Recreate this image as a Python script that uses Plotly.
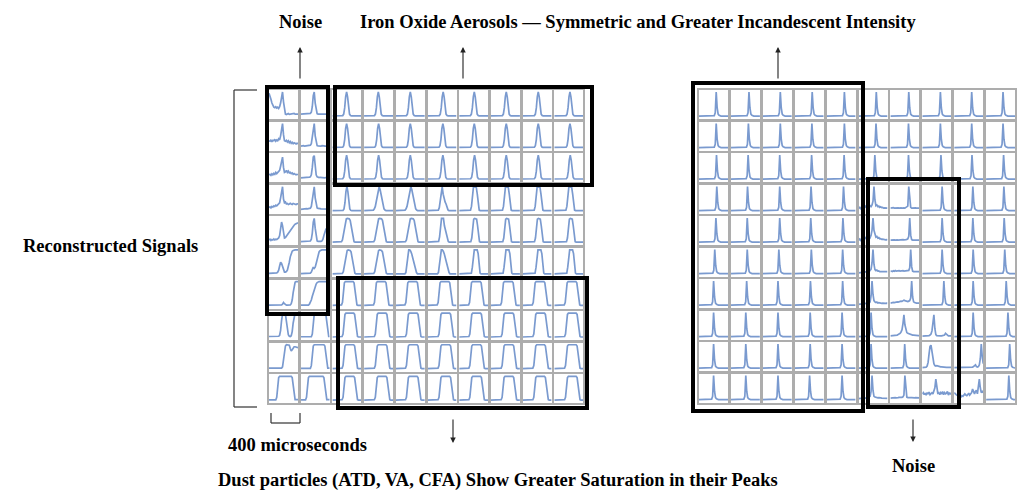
"""Grid of reconstructed incandescence signals with annotated clusters."""
import plotly.graph_objects as go

W, H = 1026, 496   # page body keeps an 8 px margin, so the figure is 8 px smaller
OFF = 8
N_PTS = 30  # samples across one cell (x runs 0..30)

# --- waveform shapes (peak-normalised) ---
SHAPES = {
    "peak": [0.03, 0.04, 0.1, 0.35, 0.8, 1.0, 0.8, 0.35, 0.1, 0.04, 0.03],
    "wide": [0.03, 0.05, 0.1, 0.2, 0.4, 0.65, 0.88, 1.0, 0.88, 0.65, 0.4, 0.2, 0.1, 0.05, 0.03],
    "shoulder": [0.03, 0.05, 0.15, 0.45, 0.9, 1.0, 0.7, 0.45, 0.38, 0.3, 0.15, 0.06, 0.03],
    "narrowflat": [0.03, 0.05, 0.2, 0.7, 0.97, 1.0, 1.0, 0.97, 0.7, 0.2, 0.05, 0.03],
    "broad": [0.03, 0.05, 0.12, 0.35, 0.7, 0.92, 0.98, 1.0, 1.0, 0.98, 0.92, 0.7, 0.35, 0.12, 0.05, 0.03],
    "flatshoulder": [0.03, 0.06, 0.25, 0.75, 1.0, 1.0, 1.0, 0.7, 0.55, 0.45, 0.2, 0.06, 0.03],
    "skew": [0.03, 0.08, 0.4, 0.85, 1.0, 1.0, 0.95, 0.85, 0.7, 0.55, 0.35, 0.18, 0.08, 0.03],
    "midflat": [0.03, 0.06, 0.3, 0.85, 1.0, 1.0, 1.0, 1.0, 0.85, 0.3, 0.06, 0.03],
    "flat": [0.03, 0.05, 0.15, 0.6, 0.95, 1.0, 1.0, 1.0, 1.0, 1.0, 1.0, 1.0, 1.0, 1.0, 0.95, 0.6, 0.15, 0.05, 0.03],
    "spike": [0.02, 0.02, 0.04, 0.15, 1.0, 0.35, 0.1, 0.05, 0.03, 0.02],
}

# left panel, columns 3..10: (shape, peak position as fraction of cell)
LEFT_SHAPES = [
    ["peak"] * 8,
    ["peak"] * 8,
    ["peak"] * 8,
    ["peak", "wide", "wide", "shoulder", "narrowflat", "narrowflat", "narrowflat", "narrowflat"],
    ["broad", "broad", "broad", "flatshoulder", "narrowflat", "narrowflat", "narrowflat", "narrowflat"],
    ["broad", "broad", "skew", "skew", "midflat", "midflat", "midflat", "midflat"],
    ["flat"] * 8,
    ["flat"] * 8,
    ["flat"] * 8,
    ["flat"] * 8,
]
LEFT_POS = [
    [0.49, 0.49, 0.50, 0.54, 0.52, 0.53, 0.54, 0.54],
    [0.49, 0.50, 0.50, 0.53, 0.52, 0.53, 0.54, 0.54],
    [0.49, 0.50, 0.50, 0.53, 0.53, 0.53, 0.54, 0.55],
    [0.50, 0.52, 0.52, 0.54, 0.54, 0.55, 0.55, 0.55],
    [0.53, 0.55, 0.55, 0.55, 0.55, 0.56, 0.56, 0.57],
    [0.56, 0.55, 0.53, 0.56, 0.57, 0.57, 0.58, 0.58],
    [0.58, 0.59, 0.58, 0.60, 0.59, 0.60, 0.60, 0.61],
    [0.60, 0.62, 0.60, 0.63, 0.60, 0.62, 0.62, 0.62],
    [0.60, 0.62, 0.60, 0.63, 0.60, 0.62, 0.62, 0.62],
    [0.60, 0.62, 0.60, 0.63, 0.60, 0.62, 0.62, 0.62],
]

# left panel, columns 1 and 2: individual traces (31 samples each)
LEFT_COL1 = [
    [0.95, 0.85, 0.7, 0.55, 0.42, 0.38, 0.36, 0.4, 0.35, 0.38, 0.33, 0.4, 0.55, 0.85, 1.0, 0.6, 0.2, 0.1, 0.08, 0.1, 0.12, 0.09, 0.1, 0.08, 0.12, 0.1, 0.13, 0.1, 0.09, 0.11, 0.1],
    [0.3, 0.28, 0.34, 0.26, 0.32, 0.3, 0.36, 0.28, 0.33, 0.3, 0.38, 0.34, 0.5, 0.8, 1.0, 0.55, 0.3, 0.28, 0.32, 0.25, 0.3, 0.22, 0.27, 0.2, 0.24, 0.18, 0.22, 0.2, 0.17, 0.2, 0.18],
    [0.2, 0.22, 0.18, 0.24, 0.2, 0.26, 0.22, 0.3, 0.25, 0.3, 0.32, 0.38, 0.55, 0.85, 0.92, 0.5, 0.3, 0.32, 0.38, 0.3, 0.35, 0.28, 0.3, 0.25, 0.28, 0.22, 0.25, 0.22, 0.2, 0.22, 0.2],
    [0.15, 0.18, 0.14, 0.2, 0.17, 0.22, 0.2, 0.25, 0.22, 0.27, 0.3, 0.35, 0.55, 0.9, 1.0, 0.5, 0.35, 0.38, 0.3, 0.32, 0.28, 0.3, 0.33, 0.3, 0.28, 0.32, 0.3, 0.3, 0.28, 0.3, 0.3],
    [0.12, 0.15, 0.1, 0.14, 0.12, 0.16, 0.12, 0.15, 0.14, 0.18, 0.2, 0.3, 0.55, 0.85, 0.7, 0.3, 0.2, 0.22, 0.28, 0.34, 0.4, 0.46, 0.52, 0.58, 0.62, 0.68, 0.72, 0.76, 0.78, 0.8, 0.82],
    [0.05, 0.05, 0.05, 0.05, 0.05, 0.05, 0.05, 0.06, 0.07, 0.1, 0.18, 0.35, 0.5, 0.45, 0.3, 0.15, 0.1, 0.1, 0.12, 0.18, 0.3, 0.5, 0.72, 0.88, 0.95, 0.98, 1.0, 1.0, 1.0, 1.0, 1.0],
    [0.04, 0.04, 0.04, 0.04, 0.04, 0.04, 0.04, 0.04, 0.04, 0.04, 0.04, 0.04, 0.04, 0.05, 0.08, 0.15, 0.1, 0.05, 0.04, 0.04, 0.04, 0.04, 0.05, 0.1, 0.25, 0.55, 0.85, 0.97, 1.0, 1.0, 1.0],
    [0.05, 0.05, 0.05, 0.05, 0.05, 0.05, 0.05, 0.05, 0.05, 0.05, 0.06, 0.1, 0.3, 0.7, 0.95, 1.0, 1.0, 0.95, 0.7, 0.35, 0.12, 0.06, 0.05, 0.08, 0.25, 0.6, 0.9, 1.0, 1.0, 1.0, 1.0],
    [0.05, 0.05, 0.05, 0.05, 0.05, 0.05, 0.05, 0.05, 0.05, 0.05, 0.05, 0.05, 0.05, 0.05, 0.1, 0.35, 0.75, 0.95, 1.0, 1.0, 1.0, 0.98, 0.85, 0.75, 0.8, 0.88, 0.92, 0.92, 0.9, 0.9, 0.88],
    [0.04, 0.04, 0.04, 0.04, 0.04, 0.04, 0.04, 0.04, 0.15, 0.6, 0.95, 1.0, 1.0, 1.0, 1.0, 1.0, 1.0, 1.0, 1.0, 1.0, 1.0, 1.0, 1.0, 1.0, 0.95, 0.6, 0.15, 0.05, 0.05, 0.05, 0.05],
]
LEFT_COL2 = [
    [0.1, 0.1, 0.11, 0.1, 0.1, 0.12, 0.1, 0.11, 0.1, 0.12, 0.13, 0.18, 0.4, 0.85, 1.0, 0.55, 0.2, 0.12, 0.1, 0.1, 0.11, 0.1, 0.1, 0.1, 0.11, 0.1, 0.1, 0.12, 0.1, 0.1, 0.1],
    [0.08, 0.09, 0.08, 0.1, 0.08, 0.09, 0.1, 0.08, 0.09, 0.1, 0.12, 0.18, 0.45, 0.9, 1.0, 0.5, 0.18, 0.1, 0.09, 0.08, 0.09, 0.08, 0.1, 0.08, 0.09, 0.08, 0.08, 0.09, 0.08, 0.08, 0.08],
    [0.08, 0.08, 0.09, 0.08, 0.09, 0.08, 0.1, 0.09, 0.1, 0.11, 0.12, 0.2, 0.5, 0.92, 0.98, 0.5, 0.2, 0.12, 0.1, 0.09, 0.1, 0.09, 0.08, 0.09, 0.08, 0.08, 0.09, 0.08, 0.08, 0.08, 0.08],
    [0.08, 0.09, 0.08, 0.1, 0.09, 0.1, 0.11, 0.1, 0.12, 0.11, 0.13, 0.2, 0.5, 0.9, 1.0, 0.55, 0.22, 0.14, 0.12, 0.1, 0.11, 0.1, 0.1, 0.09, 0.1, 0.09, 0.09, 0.1, 0.09, 0.09, 0.09],
    [0.05, 0.05, 0.05, 0.06, 0.05, 0.05, 0.06, 0.05, 0.05, 0.06, 0.08, 0.15, 0.4, 0.85, 1.0, 0.6, 0.2, 0.08, 0.06, 0.05, 0.05, 0.06, 0.08, 0.15, 0.3, 0.45, 0.55, 0.6, 0.62, 0.6, 0.58],
    [0.04, 0.04, 0.04, 0.04, 0.04, 0.04, 0.04, 0.04, 0.04, 0.04, 0.06, 0.1, 0.2, 0.3, 0.25, 0.3, 0.45, 0.65, 0.82, 0.92, 0.97, 1.0, 1.0, 1.0, 1.0, 1.0, 1.0, 1.0, 1.0, 1.0, 1.0],
    [0.04, 0.04, 0.04, 0.04, 0.04, 0.04, 0.04, 0.04, 0.04, 0.08, 0.15, 0.25, 0.4, 0.55, 0.7, 0.82, 0.9, 0.96, 1.0, 1.0, 1.0, 1.0, 1.0, 1.0, 1.0, 1.0, 1.0, 1.0, 1.0, 1.0, 1.0],
    [0.04, 0.04, 0.04, 0.04, 0.04, 0.04, 0.04, 0.04, 0.04, 0.04, 0.04, 0.04, 0.15, 0.6, 0.95, 1.0, 1.0, 1.0, 1.0, 1.0, 1.0, 1.0, 1.0, 1.0, 1.0, 1.0, 0.95, 0.6, 0.15, 0.05, 0.05],
    [0.04, 0.04, 0.04, 0.04, 0.04, 0.04, 0.04, 0.04, 0.04, 0.04, 0.04, 0.15, 0.6, 0.95, 1.0, 1.0, 1.0, 1.0, 1.0, 1.0, 1.0, 1.0, 1.0, 1.0, 1.0, 0.95, 0.6, 0.15, 0.05, 0.05, 0.05],
    [0.04, 0.04, 0.04, 0.04, 0.04, 0.04, 0.15, 0.6, 0.95, 1.0, 1.0, 1.0, 1.0, 1.0, 1.0, 1.0, 1.0, 1.0, 1.0, 1.0, 1.0, 1.0, 1.0, 1.0, 0.95, 0.6, 0.15, 0.05, 0.05, 0.05, 0.05],
]

# right panel: spike position per cell (None = individual trace below)
RIGHT_POS = [
    [0.61, 0.64, 0.62, 0.62, 0.63, 0.63, 0.65, 0.64, 0.62, 0.60],
    [0.61, 0.62, 0.62, 0.61, 0.63, 0.62, 0.64, 0.64, 0.62, 0.60],
    [0.62, 0.61, 0.60, 0.60, 0.62, 0.58, 0.64, 0.66, 0.63, 0.62],
    [0.63, 0.59, 0.60, 0.58, 0.60, None, None, 0.70, 0.66, 0.63],
    [0.60, 0.58, 0.60, 0.57, 0.58, None, None, 0.70, 0.66, 0.64],
    [0.56, 0.58, 0.57, 0.59, 0.57, None, None, 0.70, 0.67, 0.66],
    [0.52, 0.56, 0.54, 0.56, 0.57, None, None, 0.76, 0.67, 0.71],
    [0.52, 0.53, 0.54, 0.55, 0.55, 0.45, None, None, 0.67, 0.77],
    [0.52, 0.53, 0.54, 0.55, 0.55, 0.45, 0.51, None, None, 0.83],
    [0.52, 0.53, 0.54, 0.53, 0.55, None, None, None, None, 0.80],
]
RIGHT_NOISY = {
    (3, 5): [0.12, 0.15, 0.1, 0.16, 0.12, 0.18, 0.14, 0.2, 0.15, 0.18, 0.2, 0.15, 0.22, 0.18, 0.25, 0.4, 1.0, 0.45, 0.22, 0.25, 0.18, 0.2, 0.15, 0.17, 0.14, 0.15, 0.12, 0.13, 0.12, 0.12, 0.12],
    (3, 6): [0.12, 0.13, 0.12, 0.14, 0.12, 0.13, 0.14, 0.12, 0.13, 0.12, 0.14, 0.13, 0.12, 0.14, 0.13, 0.12, 0.14, 0.15, 0.2, 1.0, 0.35, 0.15, 0.12, 0.13, 0.12, 0.12, 0.13, 0.12, 0.12, 0.12, 0.12],
    (4, 5): [0.1, 0.14, 0.09, 0.15, 0.12, 0.18, 0.13, 0.2, 0.16, 0.22, 0.18, 0.24, 0.2, 0.3, 0.5, 1.0, 0.5, 0.28, 0.22, 0.25, 0.18, 0.2, 0.15, 0.16, 0.13, 0.14, 0.12, 0.12, 0.11, 0.12, 0.11],
    (4, 6): [0.1, 0.11, 0.1, 0.12, 0.11, 0.1, 0.12, 0.11, 0.1, 0.11, 0.12, 0.1, 0.11, 0.12, 0.11, 0.1, 0.12, 0.13, 0.15, 0.25, 1.0, 0.3, 0.12, 0.1, 0.1, 0.1, 0.1, 0.1, 0.1, 0.1, 0.1],
    (5, 5): [0.05, 0.06, 0.05, 0.06, 0.07, 0.06, 0.08, 0.07, 0.1, 0.08, 0.12, 0.1, 0.14, 0.2, 0.45, 1.0, 0.4, 0.18, 0.14, 0.16, 0.12, 0.13, 0.1, 0.11, 0.1, 0.1, 0.1, 0.1, 0.1, 0.1, 0.1],
    (5, 6): [0.1, 0.12, 0.1, 0.13, 0.11, 0.14, 0.12, 0.13, 0.11, 0.14, 0.12, 0.13, 0.12, 0.14, 0.12, 0.13, 0.12, 0.14, 0.13, 0.15, 0.25, 1.0, 0.3, 0.12, 0.1, 0.1, 0.1, 0.1, 0.1, 0.1, 0.1],
    (6, 5): [0.05, 0.06, 0.05, 0.07, 0.06, 0.08, 0.07, 0.09, 0.08, 0.1, 0.12, 0.1, 0.15, 0.4, 1.0, 0.45, 0.2, 0.15, 0.12, 0.14, 0.1, 0.12, 0.1, 0.1, 0.09, 0.1, 0.09, 0.1, 0.09, 0.1, 0.09],
    (6, 6): [0.1, 0.12, 0.11, 0.13, 0.12, 0.14, 0.13, 0.15, 0.14, 0.16, 0.15, 0.18, 0.17, 0.2, 0.22, 0.2, 0.18, 0.17, 0.16, 0.18, 0.2, 0.3, 1.0, 0.35, 0.15, 0.12, 0.1, 0.1, 0.1, 0.1, 0.1],
    (7, 6): [0.05, 0.05, 0.05, 0.06, 0.05, 0.06, 0.07, 0.08, 0.1, 0.12, 0.15, 0.2, 0.3, 0.55, 0.9, 0.5, 0.25, 0.18, 0.15, 0.13, 0.12, 0.1, 0.09, 0.08, 0.08, 0.07, 0.07, 0.06, 0.06, 0.06, 0.06],
    (7, 7): [0.04, 0.04, 0.04, 0.04, 0.05, 0.05, 0.05, 0.06, 0.08, 0.12, 0.25, 0.7, 0.9, 0.35, 0.1, 0.06, 0.05, 0.05, 0.05, 0.05, 0.05, 0.05, 0.06, 0.08, 0.15, 0.1, 0.06, 0.05, 0.05, 0.05, 0.05],
    (8, 7): [0.04, 0.04, 0.04, 0.05, 0.06, 0.1, 0.25, 0.6, 0.9, 0.95, 0.7, 0.4, 0.2, 0.12, 0.1, 0.12, 0.1, 0.08, 0.08, 0.07, 0.07, 0.06, 0.06, 0.06, 0.05, 0.05, 0.05, 0.05, 0.05, 0.05, 0.05],
    (8, 8): [0.04, 0.04, 0.04, 0.04, 0.04, 0.04, 0.04, 0.04, 0.04, 0.04, 0.04, 0.04, 0.04, 0.04, 0.04, 0.04, 0.04, 0.04, 0.05, 0.06, 0.08, 0.12, 0.15, 0.08, 0.06, 0.08, 0.15, 0.4, 1.0, 0.5, 0.2],
    (9, 5): [0.06, 0.07, 0.06, 0.08, 0.07, 0.08, 0.07, 0.09, 0.08, 0.1, 0.09, 0.12, 0.15, 0.35, 1.0, 0.4, 0.15, 0.12, 0.1, 0.11, 0.09, 0.1, 0.08, 0.09, 0.08, 0.08, 0.07, 0.08, 0.07, 0.08, 0.07],
    (9, 6): [0.08, 0.09, 0.08, 0.1, 0.09, 0.1, 0.09, 0.11, 0.1, 0.11, 0.1, 0.12, 0.11, 0.13, 0.2, 1.0, 0.3, 0.12, 0.1, 0.11, 0.1, 0.1, 0.1, 0.09, 0.1, 0.09, 0.1, 0.09, 0.09, 0.09, 0.09],
    (9, 7): [0.25, 0.3, 0.22, 0.28, 0.2, 0.3, 0.24, 0.32, 0.22, 0.28, 0.3, 0.25, 0.35, 0.5, 0.85, 0.4, 0.28, 0.3, 0.22, 0.3, 0.25, 0.35, 0.22, 0.3, 0.25, 0.28, 0.35, 0.2, 0.3, 0.25, 0.28],
    (9, 8): [0.3, 0.25, 0.22, 0.2, 0.15, 0.12, 0.1, 0.12, 0.18, 0.15, 0.2, 0.25, 0.2, 0.18, 0.22, 0.28, 0.2, 0.25, 0.3, 0.45, 0.3, 0.25, 0.35, 0.4, 0.25, 0.6, 0.85, 0.5, 0.3, 0.35, 0.3],
}

LINE = dict(color="rgba(84,126,194,0.78)", width=1.7)
CELL = 29.0  # px


def px(x):
    return (x - OFF) / W


def py(y):
    return 1 - (y - OFF) / H


def cell_trace(ys=None, shape=None, pos=None):
    if ys is not None:
        return list(range(len(ys))), ys
    t = SHAPES[shape]
    start = pos * N_PTS - (len(t) - 1) / 2
    xs = [0] + [start + i for i in range(len(t))] + [N_PTS]
    return xs, [t[0]] + t + [t[-1]]


fig = go.Figure()
layout = {}
k = 0


def add_cell(left_px, top_px, xs, ys):
    global k
    k += 1
    sx = "" if k == 1 else str(k)
    layout["xaxis" + sx] = dict(
        domain=[px(left_px + 1), px(left_px + 1 + CELL)], range=[0, N_PTS], anchor="y" + sx,
        showticklabels=False, ticks="", showgrid=False, zeroline=False,
        showline=True, mirror=True, linecolor="#adadad", linewidth=1.8)
    layout["yaxis" + sx] = dict(
        domain=[py(top_px + 1 + CELL), py(top_px + 1)], range=[-0.1, 1.08], anchor="x" + sx,
        showticklabels=False, ticks="", showgrid=False, zeroline=False,
        showline=True, mirror=True, linecolor="#adadad", linewidth=1.8)
    fig.add_trace(go.Scatter(x=xs, y=ys, mode="lines", line=LINE, hoverinfo="skip",
                             showlegend=False, xaxis="x" + sx, yaxis="y" + sx))


for r in range(10):
    top = 89 + r * 31.6
    for c in range(10):
        left = 268 + c * 31.7
        if c == 0:
            xs, ys = cell_trace(ys=LEFT_COL1[r])
        elif c == 1:
            xs, ys = cell_trace(ys=LEFT_COL2[r])
        else:
            xs, ys = cell_trace(shape=LEFT_SHAPES[r][c - 2], pos=LEFT_POS[r][c - 2])
        add_cell(left, top, xs, ys)

for r in range(10):
    top = 89 + r * 31.5
    for c in range(10):
        left = 698 + c * 31.9
        if RIGHT_POS[r][c] is None:
            xs, ys = cell_trace(ys=RIGHT_NOISY[(r, c)])
        else:
            xs, ys = cell_trace(shape="spike", pos=RIGHT_POS[r][c])
        add_cell(left, top, xs, ys)

shapes = []
# highlight boxes
for x0, y0, x1, y1 in [(267, 87, 328, 314), (335, 87, 592, 185), (338, 278, 587, 408),
                       (693, 83, 863, 411), (868, 179, 959, 407)]:
    shapes.append(dict(type="rect", xref="paper", yref="paper", x0=px(x0), y0=py(y1),
                       x1=px(x1), y1=py(y0), line=dict(color="black", width=4)))
# left bracket and the 400 microseconds scale bar
for x0, y0, x1, y1 in [(234, 90, 234, 407), (234, 90, 257, 90), (234, 407, 257, 407),
                       (271, 413, 271, 423), (300, 413, 300, 423), (271, 423, 300, 423)]:
    shapes.append(dict(type="line", xref="paper", yref="paper", x0=px(x0), y0=py(y0),
                       x1=px(x1), y1=py(y1), line=dict(color="#333", width=1.2)))

font = dict(family="Liberation Serif", size=18.5, color="black")
annotations = []
for text, x, y in [("Noise", 300, 22),
                   ("Iron Oxide Aerosols \u2014 Symmetric and Greater Incandescent Intensity", 638, 22),
                   ("Reconstructed Signals", 110, 246),
                   ("400 microseconds", 297, 445),
                   ("Dust particles (ATD, VA, CFA) Show Greater Saturation in their Peaks", 498, 480),
                   ("Noise", 913, 466)]:
    annotations.append(dict(text="<b>" + text + "</b>", x=px(x), y=py(y), xref="paper", yref="paper",
                            showarrow=False, font=font, xanchor="center", yanchor="middle"))
# arrows: (head x, head y, tail offset in px)
for x, y, ay in [(300, 47, 33), (463, 47, 33), (778, 47, 33), (453, 443, -25), (913, 442, -24)]:
    annotations.append(dict(text="", x=px(x), y=py(y), xref="paper", yref="paper",
                            showarrow=True, ax=0, ay=ay, arrowhead=2, arrowsize=1,
                            arrowwidth=1.1, arrowcolor="#222"))

fig.update_layout(width=W, height=H, margin=dict(l=0, r=0, t=0, b=0),
                  paper_bgcolor="white", plot_bgcolor="white",
                  shapes=shapes, annotations=annotations, **layout)
fig.write_html("out.html")
